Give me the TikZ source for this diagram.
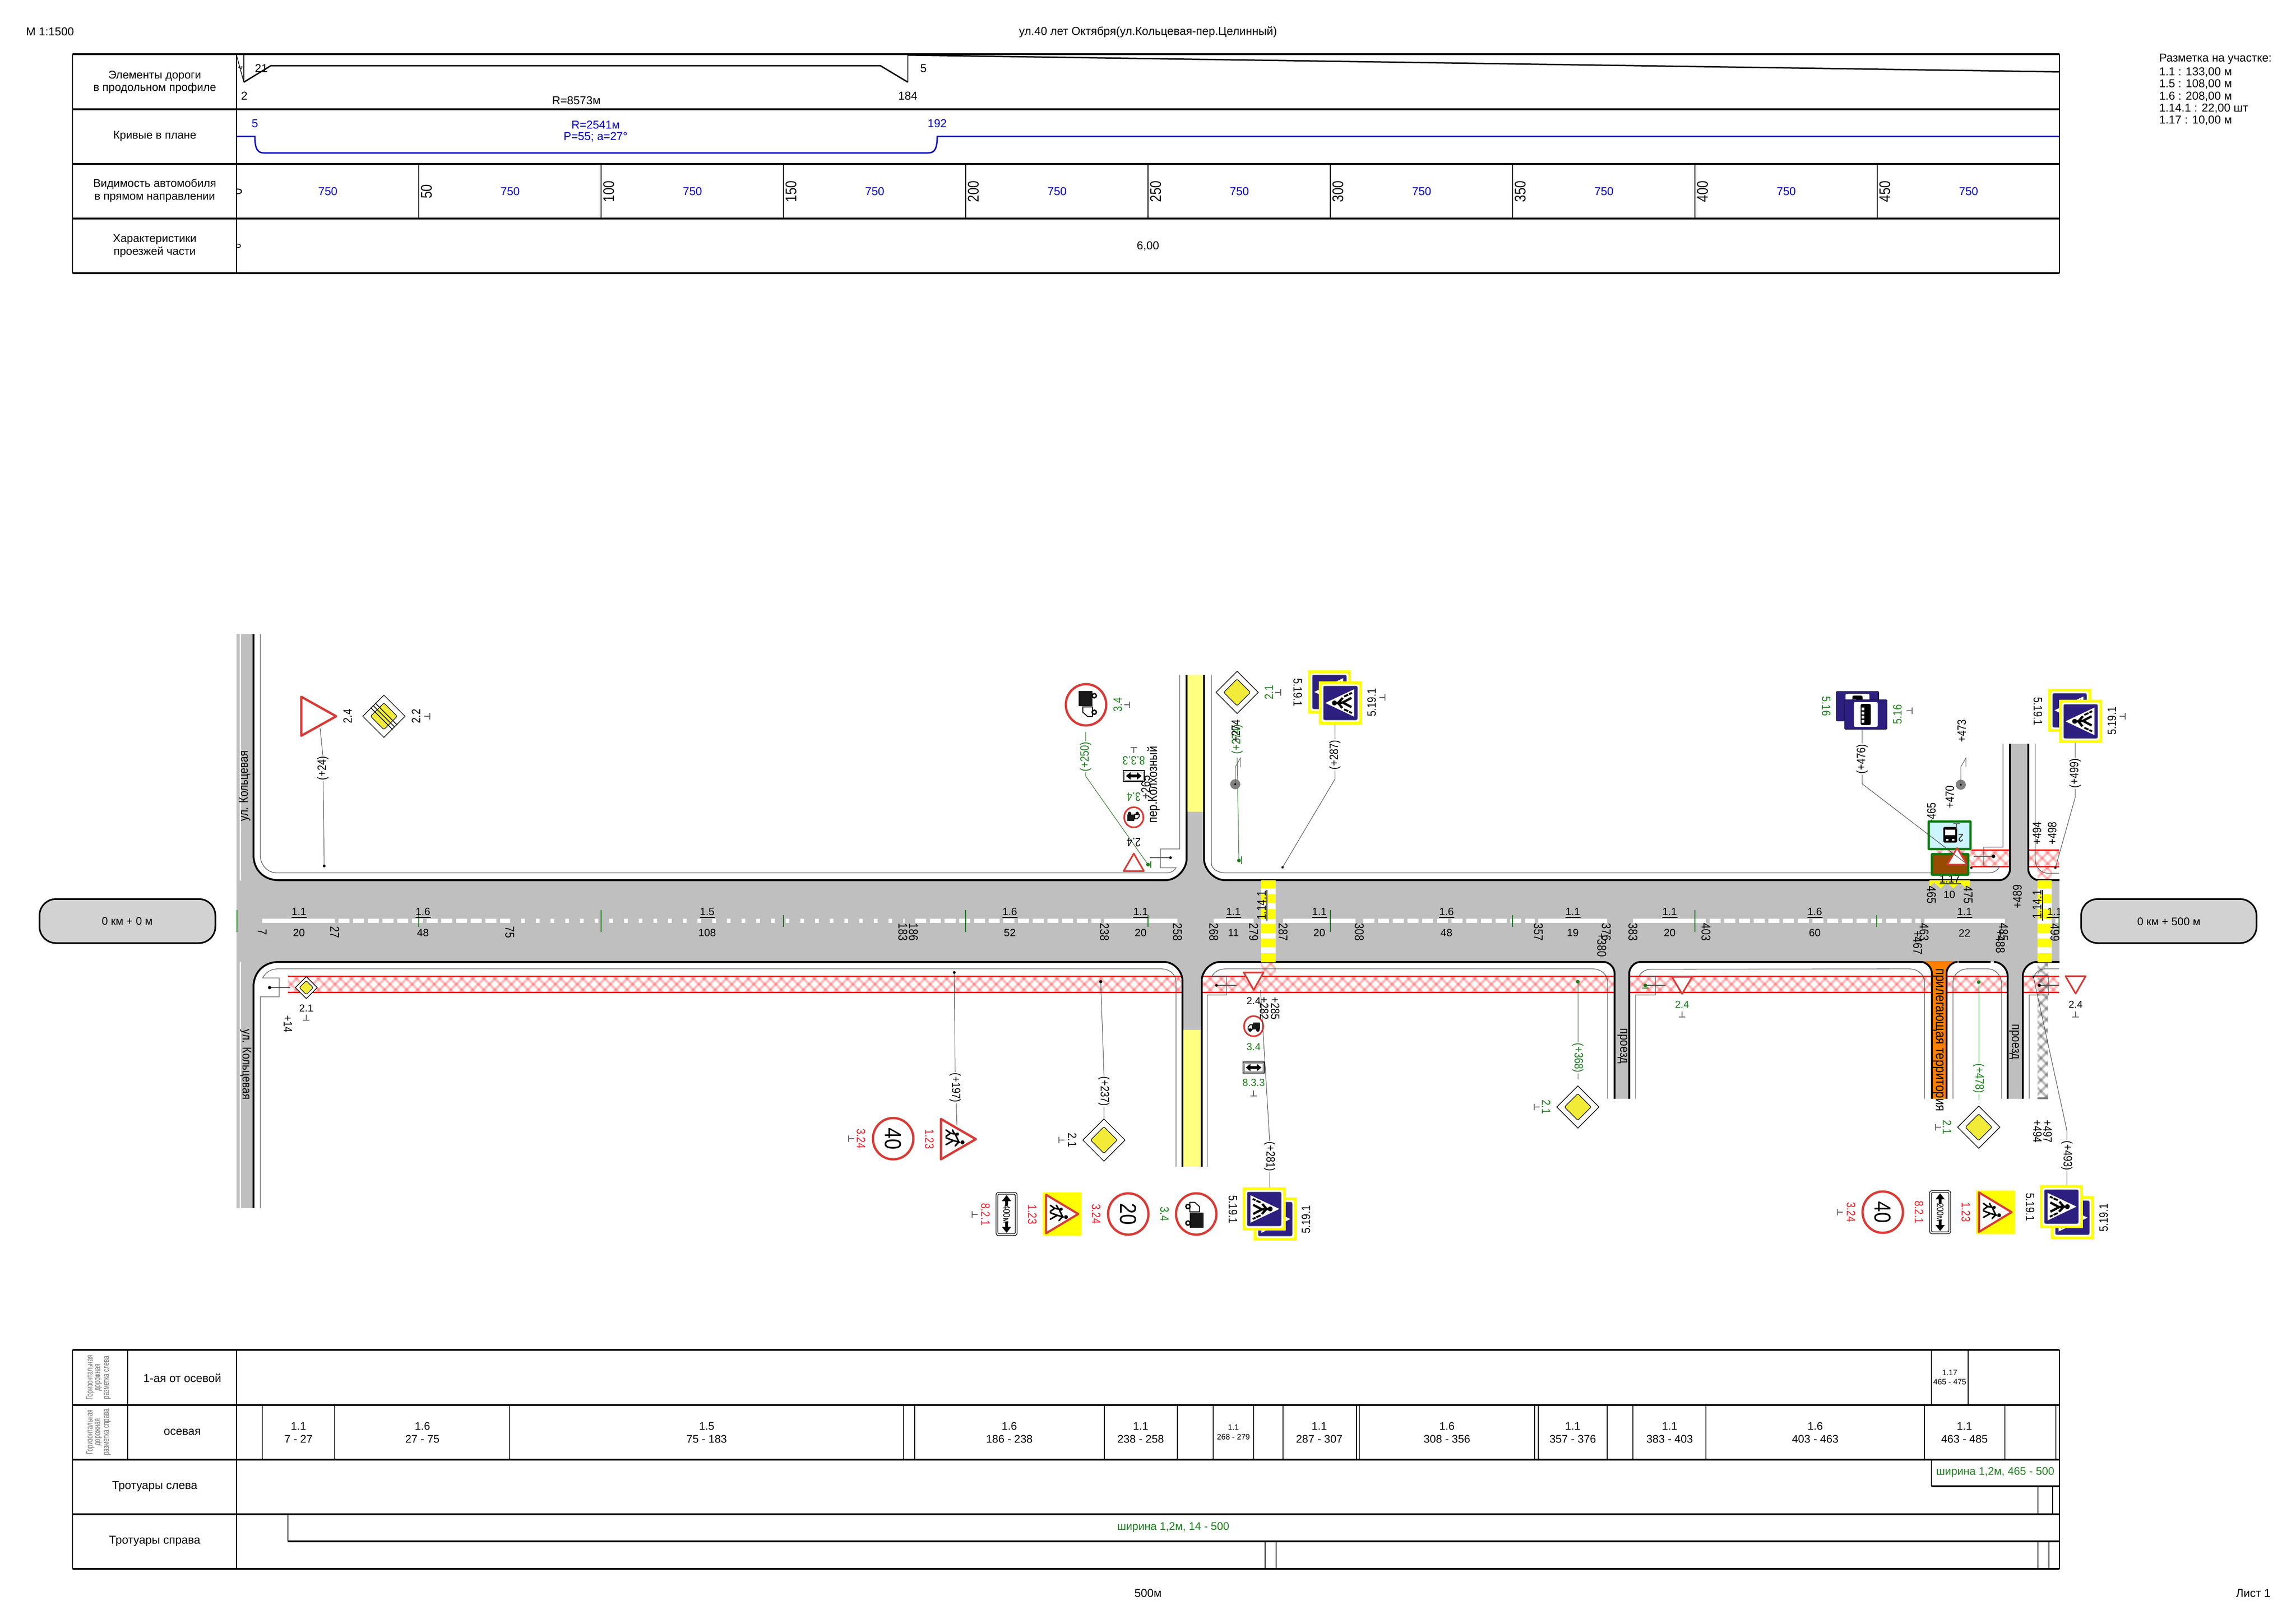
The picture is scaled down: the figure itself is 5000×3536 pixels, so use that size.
\documentclass[tikz,border=0pt]{standalone}
\usepackage{fontspec}
\usepackage{graphicx}
\setmainfont{Liberation Sans}
\definecolor{RoadG}{HTML}{BFBFBF}
\definecolor{PaleY}{HTML}{FFFF80}
\definecolor{SignY}{HTML}{F2EC38}
\definecolor{VivY}{HTML}{FFFF00}
\definecolor{SignR}{HTML}{D93A35}
\definecolor{SignB}{HTML}{2C1F80}
\definecolor{GrnT}{HTML}{1A7F1A}
\definecolor{RedT}{HTML}{E8202A}
\definecolor{BluT}{HTML}{0000C8}
\definecolor{KmG}{HTML}{D2D2D2}
\definecolor{OrngR}{HTML}{FF8000}
\definecolor{BrwnB}{HTML}{964B00}
\definecolor{PaleB}{HTML}{CCF5FF}
\definecolor{GrnB}{HTML}{0A7A0A}
\tikzset{
  txt/.style={inner sep=0pt,outer sep=0pt,anchor=center},
  hv/.style={line width=4pt,black},
  vv/.style={line width=2.2pt,black},
  curb/.style={line width=4pt,black},
  thinl/.style={line width=1.3pt,black!65},
  conn/.style={line width=1pt,black!75},
  conng/.style={line width=1pt,GrnT!85!black},
  cline/.style={line width=9pt,white},
  road/.style={fill=RoadG},
}
\newcounter{tn}
\newcommand{\stret}[2]{\ifnum#1=0 #2\else\scalebox{1}[1.2]{#2}\fi}
\newcommand{\Tx}[6][black]{\stepcounter{tn}\node[txt,text=#1,rotate=#4,font=\fontsize{#5}{#5}\selectfont] (t\arabic{tn}) at (#2,#3) {\stret{#4}{#6}};}
\newcommand{\Cx}[6][black]{\stepcounter{tn}\node[txt,fill=white,inner sep=1.5pt,text=#1,rotate=#4,font=\fontsize{#5}{#5}\selectfont] (t\arabic{tn}) at (#2,#3) {\stret{#4}{#6}};}
\newcommand{\minimark}[3]{\draw[line width=1.2pt,black!60,shift={(#1,#2)},rotate=#3] (-7,6)--(7,6) (0,-6)--(0,6);}
\newcommand{\hatchband}[5]{%
  \pgfmathsetmacro{\hH}{#4-#3}\pgfmathsetmacro{\hS}{#1-\hH}\pgfmathsetmacro{\hSb}{\hS+24}%
  \begin{scope}\clip (#1,#3) rectangle (#2,#4);
  \foreach \xx in {\hS,\hSb,...,#2}{%
    \draw[line width=6pt,#5,opacity=.2] (\xx,#3) -- ++(\hH,\hH);
    \draw[line width=6pt,#5,opacity=.2] (\xx,#4) -- ++(\hH,-\hH);
    \draw[line width=2pt,#5,opacity=.1] (\xx,#3) -- ++(\hH,\hH);
    \draw[line width=2pt,#5,opacity=.1] (\xx,#4) -- ++(\hH,-\hH);
  }\end{scope}}
\newcommand{\lowerS}[5]{% x1 x2 R ybot fill
  \pgfmathsetmacro{\aL}{#1-#3}\pgfmathsetmacro{\aM}{#1-.45*#3}\pgfmathsetmacro{\aR}{#2+#3}\pgfmathsetmacro{\aN}{#2+.45*#3}\pgfmathsetmacro{\aY}{2095+#3}\pgfmathsetmacro{\aZ}{2095+.55*#3}%
  \fill[#5] (\aL,2093) -- (\aL,2095) .. controls (\aM,2095) and (#1,\aZ) .. (#1,\aY) -- (#1,#4) -- (#2,#4) -- (#2,\aY) .. controls (#2,\aZ) and (\aN,2095) .. (\aR,2095) -- (\aR,2093) -- cycle;
  \draw[curb] (\aL,2095) .. controls (\aM,2095) and (#1,\aZ) .. (#1,\aY) -- (#1,#4);
  \draw[curb] (\aR,2095) .. controls (\aN,2095) and (#2,\aZ) .. (#2,\aY) -- (#2,#4);}
\newcommand{\upperS}[5]{%
  \pgfmathsetmacro{\aL}{#1-#3}\pgfmathsetmacro{\aM}{#1-.45*#3}\pgfmathsetmacro{\aR}{#2+#3}\pgfmathsetmacro{\aN}{#2+.45*#3}\pgfmathsetmacro{\aY}{1917-#3}\pgfmathsetmacro{\aZ}{1917-.55*#3}%
  \fill[#5] (\aL,1919) -- (\aL,1917) .. controls (\aM,1917) and (#1,\aZ) .. (#1,\aY) -- (#1,#4) -- (#2,#4) -- (#2,\aY) .. controls (#2,\aZ) and (\aN,1917) .. (\aR,1917) -- (\aR,1919) -- cycle;
  \draw[curb] (\aL,1917) .. controls (\aM,1917) and (#1,\aZ) .. (#1,\aY) -- (#1,#4);
  \draw[curb] (\aR,1917) .. controls (\aN,1917) and (#2,\aZ) .. (#2,\aY) -- (#2,#4);}
\newcommand{\xwalk}[2]{%
  \fill[white] (#1,1917) rectangle (#2,2096);
  \foreach \ya/\yb in {1917/1935,1948/1967,1980/2002,2012/2032,2044/2063,2076/2096}{\fill[VivY] (#1,\ya) rectangle (#2,\yb);}}
\newcommand{\dmd}[3]{% x y scale
  \begin{scope}[shift={(#1,#2)},scale=#3]
  \draw[line width=1.4pt,black,fill=white] (-46,0)--(0,-46)--(46,0)--(0,46)--cycle;
  \draw[line width=1.2pt,black,fill=SignY,rounded corners=3pt] (-29,0)--(0,-29)--(29,0)--(0,29)--cycle;
  \end{scope}}
\newcommand{\trisgn}[6]{% x y rot w h lw
  \begin{scope}[shift={(#1,#2)},rotate=#3]
  \draw[line width=#6pt,SignR,fill=white,line join=round] (0,-#5/2)--(#4/2,#5/2)--(-#4/2,#5/2)--cycle;
  \end{scope}}
\newcommand{\kids}[4]{% x y rot scale
  \begin{scope}[shift={(#1,#2)},rotate=#3,scale=#4,line width=3.4pt,black,line cap=round]
  \fill (7,-12) circle[radius=4.5pt];
  \draw (7,-6)--(3,8) (3,8)--(12,24) (3,8)--(-3,24) (6,-4)--(-9,3) (6,-4)--(15,4);
  \fill (-11,-1) circle[radius=3.5pt];
  \draw (-11,3)--(-13,14) (-13,14)--(-6,24) (-13,14)--(-20,24) (-11,5)--(-20,10);
  \end{scope}}
\newcommand{\circsgn}[5]{% x y rx ry lw
  \draw[line width=#5pt,SignR,fill=white] (#1,#2) ellipse[x radius=#3pt,y radius=#4pt];}
\newcommand{\truck}[4]{% x y rot scale
  \begin{scope}[shift={(#1,#2)},rotate=#3,scale=#4]
  \fill[black!90] (-5,-28) rectangle (52,24);
  \draw[line width=2pt,black,fill=white] (-8,-12)--(-28,-12)--(-44,6)--(-44,24)--(-8,24)--cycle;
  \draw[line width=3pt,black,fill=white] (-28,31) circle[radius=8pt];
  \draw[line width=3pt,black,fill=white] (34,31) circle[radius=8pt];
  \end{scope}}
\newcommand{\ped}[3]{% x y rot
  \begin{scope}[shift={(#1,#2)},rotate=#3]
  \fill[VivY] (-47,-47) rectangle (47,47);
  \fill[white,rounded corners=4pt] (-41,-41) rectangle (41,41);
  \draw[line width=1pt,black!60,fill=SignB,rounded corners=3pt] (-37,-37) rectangle (37,37);
  \fill[white] (0,-33)--(30,30)--(-30,30)--cycle;
  \fill[black] (0,-13) circle[radius=5.5pt];
  \draw[line width=5pt,black] (0,-8)--(1,6) (1,5)--(-9,24) (1,5)--(11,24) (0,-5)--(-11,4) (0,-5)--(11,5);
  \draw[line width=4pt,black] (-18,17)--(-14,8) (-22,25)--(-19,19) (18,17)--(14,8) (22,25)--(19,19);
  \end{scope}}
\newcommand{\busplate}[2]{%
  \begin{scope}[shift={(#1,#2)}]
  \draw[line width=1.5pt,black!40!SignB,fill=SignB,rounded corners=2pt] (-46,-32) rectangle (46,32);
  \fill[white,rounded corners=3pt] (-26,-27) rectangle (26,27);
  \fill[black,rounded corners=3pt] (-11,-23) rectangle (11,23);
  \foreach \yy in {-12,-3,6,15}{\fill[white] (-9,\yy-3) rectangle (-3,\yy+3);}
  \end{scope}}
\newcommand{\plateA}[3]{% x y text
  \begin{scope}[shift={(#1,#2)}]
  \draw[line width=1.3pt,black,fill=white,rounded corners=5pt] (-23,-47) rectangle (23,47);
  \draw[line width=1.3pt,black,rounded corners=3pt] (-19,-43) rectangle (19,43);
  \fill[black] (0,-41)--(-10,-28)--(-3,-28)--(-3,-18)--(3,-18)--(3,-28)--(10,-28)--cycle;
  \fill[black] (0,41)--(-10,28)--(-3,28)--(-3,18)--(3,18)--(3,28)--(10,28)--cycle;
  \end{scope}
  \Tx{#1}{#2}{-90}{17}{#3}}
\newcommand{\plateB}[2]{%
  \begin{scope}[shift={(#1,#2)}]
  \draw[line width=1.4pt,black,fill=white] (-23,-12) rectangle (23,12);
  \draw[line width=1pt,black!60] (-20,-9) rectangle (20,9);
  \fill[black] (-17,0)--(-7,-8)--(-7,-3)--(7,-3)--(7,-8)--(17,0)--(7,8)--(7,3)--(-7,3)--(-7,8)--cycle;
  \end{scope}}
\newcommand{\MLab}[4]{% x top bottom ulen
  \Tx{#1}{1986}{0}{23}{#2}\Tx{#1}{2032}{0}{23}{#3}
  \draw[line width=1.8pt,black] ({#1-#4/2},1998)--({#1+#4/2},1998);}
\begin{document}
\begin{tikzpicture}[x=1pt,y=-1pt]
\useasboundingbox (0,0) rectangle (5000,3536);
\fill[white] (0,0) rectangle (5000,3536);
% ---------- header texts
\Tx{109}{69}{0}{25}{М 1:1500}
\Tx{2500}{70}{0}{25}{ул.40 лет Октября(ул.Кольцевая-пер.Целинный)}
\stepcounter{tn}\node[txt,anchor=west,font=\fontsize{25}{25}\selectfont] (t\arabic{tn}) at (4702,128) {Разметка на участке:};
\foreach \yy/\tt in {157/{1.1 : 133,00 м},183/{1.5 : 108,00 м},210/{1.6 : 208,00 м},236/{1.14.1 : 22,00 шт},262/{1.17 : 10,00 м}}{%
  \stepcounter{tn}\node[txt,anchor=west,font=\fontsize{25}{25}\selectfont] (t\arabic{tn}) at (4702,\yy) {\tt};}
% ---------- top table
\foreach \yy in {118,238,357,476,595}{\draw[hv] (158,\yy)--(4485,\yy);}
\foreach \xx in {158,515,4485}{\draw[vv] (\xx,118)--(\xx,595);}
\foreach \xx in {912,1309,1706,2103,2500,2897,3294,3691,4088}{\draw[vv] (\xx,357)--(\xx,476);}
\Tx{337}{165}{0}{24.5}{Элементы дороги}
\Tx{337}{192}{0}{24.5}{в продольном профиле}
\Tx{337}{297}{0}{24.5}{Кривые в плане}
\Tx{337}{401}{0}{24.5}{Видимость автомобиля}
\Tx{337}{431}{0}{24.5}{в прямом направлении}
\Tx{337}{522}{0}{24.5}{Характеристики}
\Tx{337}{549}{0}{24.5}{проезжей части}
% profile
\draw[line width=1.4pt,black] (515,120)--(531,179);
\draw[line width=1.8pt,black] (531,120)--(531,179);
\draw[line width=3pt,black] (531,179)--(590,143)--(1917,143)--(1977,179);
\draw[line width=1.8pt,black] (1977,179)--(1977,120);
\draw[line width=3pt,black] (1977,120)--(4485,156.5);
\Tx{524}{148}{90}{13}{4}
\Tx{569}{149}{0}{25}{21}
\Tx{532}{209}{0}{25}{2}
\Tx{1255}{219}{0}{25}{R=8573м}
\Tx{2011}{149}{0}{25}{5}
\Tx{1977}{209}{0}{25}{184}
% plan
\draw[line width=3pt,BluT] (515,297)--(555,297) .. controls (555,322) and (560,333) .. (574,333)--(2022,333) .. controls (2036,333) and (2041,322) .. (2041,297)--(4485,297);
\Tx[BluT]{555}{269}{0}{25}{5}
\Tx[BluT]{2041}{269}{0}{25}{192}
\Tx[BluT]{1297}{272}{0}{25}{R=2541м}
\Tx[BluT]{1297}{298}{0}{25}{P=55; a=27°}
% visibility
\begin{scope}\clip (516,360) rectangle (560,590);
\Tx{516}{417}{90}{26}{0}
\Tx{516}{536}{90}{20}{0}
\end{scope}
\foreach \xx/\tt in {912/50,1309/100,1706/150,2103/200,2500/250,2897/300,3294/350,3691/400,4088/450}{\Tx{\xx+17}{417}{90}{28}{\tt}}
\foreach \xx in {714,1111,1508,1905,2302,2699,3096,3493,3890,4287}{\Tx[BluT]{\xx}{417}{0}{25}{750}}
\Tx{2500}{536}{0}{25}{6,00}
% ---------- km boxes
\draw[line width=3.5pt,black,fill=KmG,rounded corners=36pt] (86,1958) rectangle (469,2054);
\draw[line width=3.5pt,black,fill=KmG,rounded corners=36pt] (4532,1958) rectangle (4914,2054);
\Tx{277}{2006}{0}{24}{0 км + 0 м}
\Tx{4723}{2007}{0}{24}{0 км + 500 м}
% ---------- hatch bands
\hatchband{627}{2575}{2126}{2161}{red}
\hatchband{2617}{3516}{2126}{2161}{red}
\hatchband{3548}{4207}{2126}{2161}{red}
\hatchband{4239}{4372}{2126}{2161}{red}
\hatchband{4405}{4484}{2126}{2161}{red}
\hatchband{4206}{4377}{1851}{1887}{red}
\hatchband{4417}{4484}{1851}{1887}{red}
\hatchband{2746}{2778}{2096}{2126}{red}
\hatchband{4437}{4468}{1887}{1917}{red}
\hatchband{4437}{4460}{2096}{2393}{black}
\fill[black!50] (4437,2390) rectangle (4460,2394);
\foreach \aa/\bb in {627/2575,2617/3516,3548/4207,4239/4372,4405/4484}{\draw[line width=3pt,red] (\aa,2126)--(\bb,2126) (\aa,2161)--(\bb,2161);}
\foreach \aa/\bb in {4293/4377,4417/4484}{\draw[line width=3pt,red] (\aa,1851)--(\bb,1851) (\aa,1887)--(\bb,1887);}
% ---------- roads
\fill[road] (515,1917) rectangle (4485,2095);
\fill[road] (515,1381) -- (552,1381) -- (552,1862) .. controls (552,1895) and (575,1917) .. (607,1917) -- (607,2095) .. controls (575,2095) and (552,2117) .. (552,2150) -- (552,2631) -- (515,2631) -- cycle;
\draw[curb] (552,1381) -- (552,1862) .. controls (552,1895) and (575,1917) .. (607,1917) -- (2538,1917);
\draw[curb] (2668,1917)--(4354,1917) (4438,1917)--(4485,1917);
\draw[curb] (552,2631) -- (552,2150) .. controls (552,2117) and (575,2095) .. (607,2095) -- (2536,2095);
\draw[curb] (2657,2095)--(3492,2095) (3572,2095)--(4184,2095) (4265,2095)--(4335,2095) (4433,2095)--(4485,2095);
\draw[line width=3pt,white] (523,1381)--(523,1918) (523,2095)--(523,2631);
\upperS{2584}{2622}{46}{1470}{RoadG}
\fill[PaleY] (2586,1470) rectangle (2620,1768);
\upperS{4377}{4417}{23}{1620}{RoadG}
\lowerS{2575}{2617}{40}{2541}{RoadG}
\fill[PaleY] (2577,2243) rectangle (2615,2541);
\lowerS{3516}{3548}{24}{2393}{RoadG}
\lowerS{4207}{4239}{24}{2393}{OrngR}
\lowerS{4372}{4405}{30}{2393}{RoadG}
% ---------- thin kerb lines
\draw[thinl] (567,1381)--(567,1864) .. controls (567,1884) and (583,1901) .. (603,1901)--(2541,1901) .. controls (2550,1901) and (2558,1896) .. (2561,1890)--(2527,1890)--(2527,1849)--(2569,1849)--(2569,1470);
\draw[thinl] (2638,1470)--(2638,1880) .. controls (2638,1892) and (2652,1901) .. (2668,1901)--(4331,1901) .. controls (4343,1901) and (4350,1895) .. (4354,1888)--(4320,1886)--(4320,1845)--(4362,1845)--(4362,1620);
\draw[thinl] (4432,1620)--(4432,1871) .. controls (4432,1890) and (4445,1902) .. (4461,1902)--(4484,1902);
\draw[thinl] (567,2631)--(567,2171)--(608,2171)--(608,2130)--(572,2130) .. controls (578,2118) and (590,2110) .. (606,2110)--(2528,2110) .. controls (2548,2110) and (2561,2123) .. (2561,2140)--(2561,2541);
\draw[thinl] (2629,2541)--(2629,2167)--(2671,2167)--(2671,2127)--(2639,2127) .. controls (2644,2116) and (2656,2110) .. (2670,2110)--(3467,2110) .. controls (3487,2110) and (3501,2123) .. (3501,2140)--(3501,2393);
\draw[thinl] (3562,2393)--(3562,2167)--(3605,2167)--(3605,2127)--(3570,2125) .. controls (3575,2116) and (3585,2111) .. (3595,2111)--(4156,2110) .. controls (4176,2110) and (4191,2122) .. (4191,2139)--(4191,2393);
\draw[thinl] (4253,2393)--(4253,2140) .. controls (4253,2122) and (4268,2110) .. (4286,2110)--(4328,2110) .. controls (4346,2110) and (4359,2125) .. (4359,2145)--(4359,2393);
\draw[thinl] (4419,2393)--(4419,2167)--(4461,2167)--(4461,2125)--(4430,2125) .. controls (4435,2116) and (4444,2110) .. (4454,2110)--(4484,2110);
% ---------- centre line
\foreach \aa/\bb in {571/729,2405/2564,2643/2730,2794/2952,3350/3500,3556/3715,4191/4366,4476/4485}{\draw[cline] (\aa,2005)--(\bb,2005);}
\foreach \aa/\bb in {737/1111,1993/2397,2969/3342,3723/4183}{\draw[cline,dash pattern=on 24pt off 8pt] (\aa,2005)--(\bb,2005);}
\draw[cline,dash pattern=on 8pt off 24pt] (1135,2005)--(1970,2005);
% ticks
\foreach \xx in {516,1309,2103,2897,3691,4484}{\draw[line width=2.4pt,GrnB] (\xx,1982)--(\xx,2030);}
\foreach \xx in {912,1706,2500,3294,4087}{\draw[line width=2.4pt,GrnB] (\xx,1993)--(\xx,2019);}
% crosswalks
\xwalk{2746}{2778}
\xwalk{4437}{4468}
% ---------- road labels
\MLab{651}{1.1}{20}{33}
\MLab{921}{1.6}{48}{33}
\MLab{1540}{1.5}{108}{33}
\MLab{2199}{1.6}{52}{33}
\MLab{2484}{1.1}{20}{33}
\MLab{2686}{1.1}{11}{33}
\MLab{2873}{1.1}{20}{33}
\MLab{3150}{1.6}{48}{33}
\MLab{3425}{1.1}{19}{33}
\MLab{3636}{1.1}{20}{33}
\MLab{3952}{1.6}{60}{33}
\MLab{4278}{1.1}{22}{33}
\foreach \xx/\tt in {571/7,729/27,1110/75,1966/183,1989/186,2405/238,2564/258,2643/268,2730/279,2794/287,2960/308,3350/357,3498/376,3556/383,3715/403,4190/463,4363/485}{\Tx{\xx}{2030}{-90}{23}{\tt}}
\Tx{3488}{2058}{-90}{23}{+380}
\Tx{4176}{2053}{-90}{23}{+467}
\Tx{4356}{2050}{-90}{23}{+488}
\begin{scope}\clip (4440,1950) rectangle (4485,2060);
\Tx{4474}{1986}{0}{23}{1.1}
\draw[line width=1.8pt,black] (4457,1998)--(4485,1998);
\Tx{4475}{2031}{-90}{23}{499}
\end{scope}
\Tx{2747}{1972}{90}{23}{1.14.1}
\draw[line width=1.8pt,black] (2759,1938)--(2759,2005);
\Tx{4436}{1970}{90}{23}{1.14.1}
\draw[line width=1.8pt,black] (4448,1938)--(4448,2005);
\Tx{4393}{1953}{90}{23}{+489}
% 1.17 zigzag + labels
\fill[VivY] (4202,1917)--(4290,1917)--(4290,1928)--(4282,1935)--(4268,1922)--(4254,1935)--(4240,1922)--(4226,1935)--(4212,1922)--(4202,1932)--cycle;
\Tx{4246}{1915}{0}{23}{1.17}
\draw[line width=1.8pt,black] (4224,1925)--(4270,1925);
\Tx{4245}{1949}{0}{23}{10}
\Tx{4206}{1949}{-90}{23}{465}
\Tx{4286}{1949}{-90}{23}{475}
% street names
\Tx{533}{1712}{90}{23}{ул. Кольцевая}
\Tx{535}{2318}{-90}{23}{ул. Кольцевая}
\Tx{2512}{1709}{90}{24}{пер.Колхозный}
\Tx{2495}{1715}{90}{23}{+265}
\Tx{3533}{2278}{-90}{24}{проезд}
\Tx{4386}{2269}{-90}{24}{проезд}
\Tx{4221}{2265}{-90}{26}{прилегающая территория}
% ---------- sign group at left (+24)
\coordinate (a24) at (697,1586);
\coordinate (b24) at (703,1644);
\coordinate (c24) at (706,1886);
\trisgn{694}{1560}{-90}{85}{76}{5}
\draw[conn] (a24)--(b24)--(c24);
\fill (c24) circle[radius=3pt];
\Cx{703}{1673}{90}{22}{(+24)}
\Tx{757}{1560}{90}{22}{2.4}
\dmd{836}{1560}{1}
\draw[line width=1.6pt,black] (812,1536)--(860,1584) (817,1531)--(865,1579) (807,1541)--(855,1589);
\Tx{906}{1560}{90}{22}{2.2}
\minimark{930}{1560}{90}
% 2.1 small at left
\coordinate (a14) at (587,2151);
\coordinate (b14) at (632,2151);
\dmd{667}{2151}{.52}
\draw[thinl] (a14)--(b14);
\fill (a14) circle[radius=3.5pt];
\Tx{667}{2196}{0}{22}{2.1}
\minimark{667}{2216}{0}
\Tx{627}{2230}{-90}{22}{+14}
% ---------- 197, 237 group
\coordinate (a197) at (2078,2118);
\coordinate (b197) at (2080,2334);
\coordinate (c197) at (2084,2451);
\draw[conn] (a197)--(b197)--(c197);
\fill (a197) circle[radius=3pt];
\trisgn{2087}{2481}{-90}{88}{76}{5}
\kids{2084}{2481}{-90}{1}
\Cx{2080}{2369}{-90}{22}{(+197)}
\circsgn{1945}{2480}{44}{45}{5}
\Tx{1945}{2480}{-90}{42}{40}
\Tx[RedT]{2024}{2481}{-90}{22}{1.23}
\Tx[RedT]{1875}{2480}{-90}{22}{3.24}
\minimark{1854}{2480}{-90}
\coordinate (a237) at (2397,2138);
\coordinate (b237) at (2404,2339);
\coordinate (c237) at (2404,2436);
\draw[conn] (a237)--(b237)--(c237);
\fill (a237) circle[radius=3.5pt];
\Cx{2404}{2377}{-90}{22}{(+237)}
\dmd{2404}{2483}{1}
\Tx{2335}{2483}{-90}{22}{2.1}
\minimark{2312}{2483}{-90}
% ---------- bottom row left
\plateA{2192}{2644}{400м}
\Tx[RedT]{2146}{2645}{-90}{22}{8.2.1}
\minimark{2123}{2645}{-90}
\fill[VivY] (2271,2597) rectangle (2355,2691);
\trisgn{2313}{2644}{-90}{84}{70}{4.5}
\kids{2310}{2644}{-90}{.95}
\Tx[RedT]{2248}{2645}{-90}{22}{1.23}
\circsgn{2457}{2644}{44}{45}{5}
\Tx{2457}{2644}{-90}{42}{20}
\Tx[RedT]{2387}{2644}{-90}{22}{3.24}
\circsgn{2605}{2644}{44}{45}{5}
\truck{2605}{2644}{-90}{.58}
\Tx[GrnT]{2536}{2644}{-90}{22}{3.4}
% ---------- upper cross 1
\coordinate (a250) at (2500,1883);
\coordinate (b250) at (2364,1690);
\coordinate (c250) at (2364,1594);
\draw[conng] (a250)--(b250)--(c250);
\Cx[GrnT]{2364}{1648}{90}{22}{(+250)}
\circsgn{2365}{1535}{44}{45}{5}
\truck{2365}{1535}{90}{.58}
\Tx[GrnT]{2434}{1535}{90}{22}{3.4}
\minimark{2454}{1535}{90}
\circsgn{2469}{1780}{21}{22}{3.5}
\truck{2469}{1780}{180}{.27}
\Tx[GrnT]{2469}{1736}{180}{22}{3.4}
\plateB{2469}{1690}
\Tx[GrnT]{2469}{1657}{180}{22}{8.3.3}
\minimark{2469}{1634}{180}
\trisgn{2469}{1878}{0}{44}{38}{3.5}
\Tx{2469}{1835}{180}{22}{2.4}
\coordinate (d265) at (2549,1868);
\coordinate (e265) at (2504,1868);
\draw[thinl] (d265)--(e265);
\fill (d265) circle[radius=3pt];
\fill[GrnT] (a250) circle[radius=4pt];
\draw[line width=1.5pt,GrnT] (2506,1876)--(2506,1890);
% 2.1 upper
\dmd{2694}{1508}{1}
\Tx[GrnT]{2763}{1508}{90}{22}{2.1}
\minimark{2783}{1508}{90}
\coordinate (a274) at (2698,1874);
\coordinate (c274) at (2694,1650);
\draw[conng] (a274)--(c274);
\fill[GrnT] (a274) circle[radius=4pt];
\draw[line width=1.5pt,GrnT] (2704,1865)--(2704,1882);
\fill[black!50] (2690,1708) ellipse[x radius=11pt,y radius=11pt];
\coordinate (g274) at (2690,1708);
\coordinate (h274) at (2690,1671);
\coordinate (i274) at (2701,1651);
\coordinate (j274) at (2701,1671);
\draw[line width=1pt,black!70] (g274)--(h274)--(i274)--(j274);
\fill (g274) circle[radius=2pt];
\Tx[GrnT]{2694}{1610}{90}{22}{(+274)}
\Tx{2691}{1592}{90}{22}{+274}
% 287
\ped{2895}{1507}{90}
\ped{2919}{1531}{90}
\Tx{2826}{1508}{-90}{22}{5.19.1}
\Tx{2987}{1530}{90}{22}{5.19.1}
\minimark{3010}{1519}{90}
\coordinate (a287) at (2793,1889);
\coordinate (b287) at (2907,1697);
\coordinate (c287) at (2907,1578);
\draw[conn] (a287)--(b287)--(c287);
\fill (a287) circle[radius=2.5pt];
\Cx{2907}{1644}{90}{22}{(+287)}
% ---------- lower cross 1 right
\coordinate (d282) at (2649,2146);
\coordinate (e282) at (2693,2146);
\draw[thinl] (d282)--(e282);
\fill (d282) circle[radius=3pt];
\trisgn{2730}{2137}{180}{43}{38}{3.5}
\Tx{2730}{2180}{0}{22}{2.4}
\coordinate (a281) at (2745,2156);
\coordinate (b281) at (2765,2486);
\coordinate (c281) at (2765,2586);
\circsgn{2730}{2235}{21}{22}{3.5}
\truck{2730}{2235}{0}{.27}
\Tx[GrnT]{2730}{2280}{0}{22}{3.4}
\plateB{2730}{2325}
\Tx[GrnT]{2730}{2358}{0}{22}{8.3.3}
\minimark{2730}{2381}{0}
\draw[conn] (a281)--(b281)--(c281);
\Tx{2753}{2196}{-90}{22}{+282}
\Tx{2777}{2196}{-90}{22}{+285}
\Cx{2765}{2519}{-90}{22}{(+281)}
\ped{2777}{2655}{-90}
\ped{2753}{2633}{-90}
\Tx{2685}{2634}{-90}{22}{5.19.1}
\Tx{2844}{2656}{90}{22}{5.19.1}
% ---------- 368
\coordinate (a368) at (3436,2138);
\coordinate (c368) at (3436,2351);
\draw[conng] (a368)--(c368);
\fill[GrnT] (a368) circle[radius=4pt];
\Cx[GrnT]{3436}{2304}{-90}{22}{(+368)}
\dmd{3436}{2411}{1}
\Tx[GrnT]{3367}{2411}{-90}{22}{2.1}
\minimark{3347}{2411}{-90}
% 2.4 at 3663
\coordinate (d380) at (3583,2146);
\coordinate (e380) at (3627,2146);
\draw[thinl] (d380)--(e380);
\fill[GrnT] (d380) circle[radius=4pt];
\draw[line width=1.5pt,GrnT] (3576,2152)--(3590,2152);
\trisgn{3663}{2146}{180}{44}{37}{3.5}
\Tx[GrnT]{3663}{2188}{0}{22}{2.4}
\minimark{3663}{2209}{0}
% ---------- 5.16
\busplate{4045}{1538}
\busplate{4063}{1556}
\Tx[GrnT]{3977}{1538}{-90}{22}{5.16}
\Tx[GrnT]{4132}{1556}{90}{22}{5.16}
\minimark{4158}{1548}{90}
\Tx{4206}{1773}{90}{22}{+465}
\Tx{4246}{1736}{90}{22}{+470}
\Tx{4272}{1592}{90}{22}{+473}
\fill[black!50] (4270,1709) ellipse[x radius=11pt,y radius=11pt];
\coordinate (g473) at (4270,1709);
\coordinate (h473) at (4270,1670);
\coordinate (i473) at (4281,1651);
\coordinate (j473) at (4281,1670);
\draw[line width=1pt,black!70] (g473)--(h473)--(i473)--(j473);
\fill (g473) circle[radius=2pt];
% green boxes
\draw[line width=5pt,GrnB,fill=PaleB,rounded corners=1pt] (4200,1789) rectangle (4291,1849);
\begin{scope}[shift={(4247,1818)}]
\fill[black,rounded corners=3pt] (-15,-17) rectangle (15,17);
\fill[white] (-11,-11) rectangle (11,1);
\fill[white] (-9,9) rectangle (-4,13) (4,9) rectangle (9,13);
\end{scope}
\Tx{4270}{1825}{180}{20}{2}
\minimark{4261}{1800}{180}
\draw[line width=5pt,GrnB,fill=BrwnB,rounded corners=1pt] (4207,1860) rectangle (4286,1905);
\trisgn{4262}{1865}{0}{43}{36}{3.5}
\coordinate (a476) at (4286,1884);
\coordinate (b476) at (4055,1707);
\coordinate (c476) at (4055,1588);
\draw[conn] (a476)--(b476)--(c476);
\Cx{4055}{1653}{90}{22}{(+476)}
\coordinate (d473) at (4341,1865);
\coordinate (e473) at (4298,1865);
\draw[thinl] (d473)--(e473);
\fill (d473) circle[radius=4pt];
\fill (4293,1890) circle[radius=2.5pt];
% 5.19.1 upper right
\ped{4507}{1547}{90}
\ped{4531}{1571}{90}
\Tx{4438}{1549}{-90}{22}{5.19.1}
\Tx{4599}{1570}{90}{22}{5.19.1}
\minimark{4622}{1560}{90}
\coordinate (a499) at (4476,1890);
\coordinate (b499) at (4519,1737);
\coordinate (c499) at (4519,1618);
\draw[conn] (a499)--(b499)--(c499);
\fill (a499) circle[radius=2.5pt];
\Cx{4519}{1684}{90}{22}{(+499)}
\Tx{4436}{1815}{90}{22}{+494}
\Tx{4469}{1815}{90}{22}{+498}
% ---------- lower right
\coordinate (a478) at (4309,2139);
\coordinate (c478) at (4309,2396);
\draw[conng] (a478)--(c478);
\fill[GrnT] (a478) circle[radius=4pt];
\Cx[GrnT]{4309}{2349}{-90}{22}{(+478)}
\dmd{4309}{2455}{1}
\Tx[GrnT]{4240}{2455}{-90}{22}{2.1}
\minimark{4221}{2455}{-90}
\coordinate (d494) at (4441,2146);
\coordinate (e494) at (4484,2146);
\draw[thinl] (d494)--(e494);
\fill (d494) circle[radius=3.5pt];
\trisgn{4520}{2145}{180}{44}{38}{3.5}
\Tx{4520}{2188}{0}{22}{2.4}
\minimark{4520}{2209}{0}
\Tx{4459}{2464}{-90}{22}{+497}
\Tx{4437}{2464}{-90}{22}{+494}
\coordinate (a493) at (4428,2127);
\coordinate (b493) at (4501,2462);
\coordinate (c493) at (4501,2581);
\draw[conn] (a493)--(b493)--(c493);
\fill (a493) circle[radius=2.5pt];
\Cx{4501}{2517}{-90}{22}{(+493)}
\ped{4513}{2652}{-90}
\ped{4489}{2628}{-90}
\Tx{4421}{2629}{-90}{22}{5.19.1}
\Tx{4581}{2652}{90}{22}{5.19.1}
\fill[VivY] (4303,2593) rectangle (4388,2688);
\trisgn{4345}{2640}{-90}{86}{71}{4.5}
\kids{4342}{2640}{-90}{.95}
\Tx[RedT]{4281}{2640}{-90}{22}{1.23}
\plateA{4225}{2640}{200м}
\Tx[RedT]{4179}{2640}{-90}{22}{8.2.1}
\circsgn{4100}{2640}{44}{45}{5}
\Tx{4100}{2640}{-90}{42}{40}
\Tx[RedT]{4031}{2640}{-90}{22}{3.24}
\minimark{4007}{2640}{-90}
% ---------- bottom table
\foreach \yy in {2940,3060,3179,3298,3417}{\draw[hv] (158,\yy)--(4485,\yy);}
\foreach \xx in {158,515,4485}{\draw[vv] (\xx,2940)--(\xx,3417);}
\draw[vv] (278,2940)--(278,3179);
\foreach \xx in {4206,4286}{\draw[vv] (\xx,2940)--(\xx,3060);}
\foreach \xx in {571,729,1110,1968,1992,2405,2564,2642,2730,2794,2954,2960,3342,3350,3500,3556,3715,4191,4366,4477}{\draw[vv] (\xx,3060)--(\xx,3179);}
\Tx{397}{3001}{0}{25}{1-ая от осевой}
\Tx{397}{3119}{0}{25}{осевая}
\Tx{337}{3237}{0}{25}{Тротуары слева}
\Tx{337}{3356}{0}{25}{Тротуары справа}
\Tx[black!55]{197}{3000}{90}{13}{\scalebox{1}[1.25]{Горизонтальная}}
\Tx[black!55]{215}{3000}{90}{13}{\scalebox{1}[1.25]{дорожная}}
\Tx[black!55]{234}{3000}{90}{13}{\scalebox{1}[1.25]{разметка слева}}
\Tx[black!55]{197}{3119}{90}{13}{\scalebox{1}[1.25]{Горизонтальная}}
\Tx[black!55]{215}{3119}{90}{13}{\scalebox{1}[1.25]{дорожная}}
\Tx[black!55]{234}{3119}{90}{13}{\scalebox{1}[1.25]{разметка справа}}
\Tx{4246}{2990}{0}{17}{1.17}
\Tx{4246}{3010}{0}{17}{465 - 475}
\foreach \xx/\aa/\bb in {650/1.1/7 - 27,920/1.6/27 - 75,1539/1.5/75 - 183,2198/1.6/186 - 238,2484/1.1/238 - 258,2873/1.1/287 - 307,3151/1.6/308 - 356,3425/1.1/357 - 376,3636/1.1/383 - 403,3953/1.6/403 - 463,4278/1.1/463 - 485}{%
  \Tx{\xx}{3106}{0}{24}{\aa}\Tx{\xx}{3134}{0}{24}{\bb}}
\Tx{2686}{3109}{0}{17}{1.1}
\Tx{2686}{3130}{0}{17}{268 - 279}
\draw[vv] (4206,3179)--(4206,3237);
\draw[hv] (4206,3237)--(4485,3237);
\Tx[GrnT]{4345}{3207}{0}{24}{ширина 1,2м, 465 - 500}
\foreach \xx in {4438,4470}{\draw[vv] (\xx,3237)--(\xx,3298);}
\draw[vv] (627,3298)--(627,3357);
\draw[hv] (627,3357)--(4485,3357);
\Tx[GrnT]{2555}{3327}{0}{24}{ширина 1,2м, 14 - 500}
\foreach \xx in {2755,2779,4438,4462}{\draw[vv] (\xx,3357)--(\xx,3417);}
\Tx{2500}{3470}{0}{25}{500м}
\Tx{4907}{3470}{0}{25}{Лист 1}
\end{tikzpicture}
\end{document}
